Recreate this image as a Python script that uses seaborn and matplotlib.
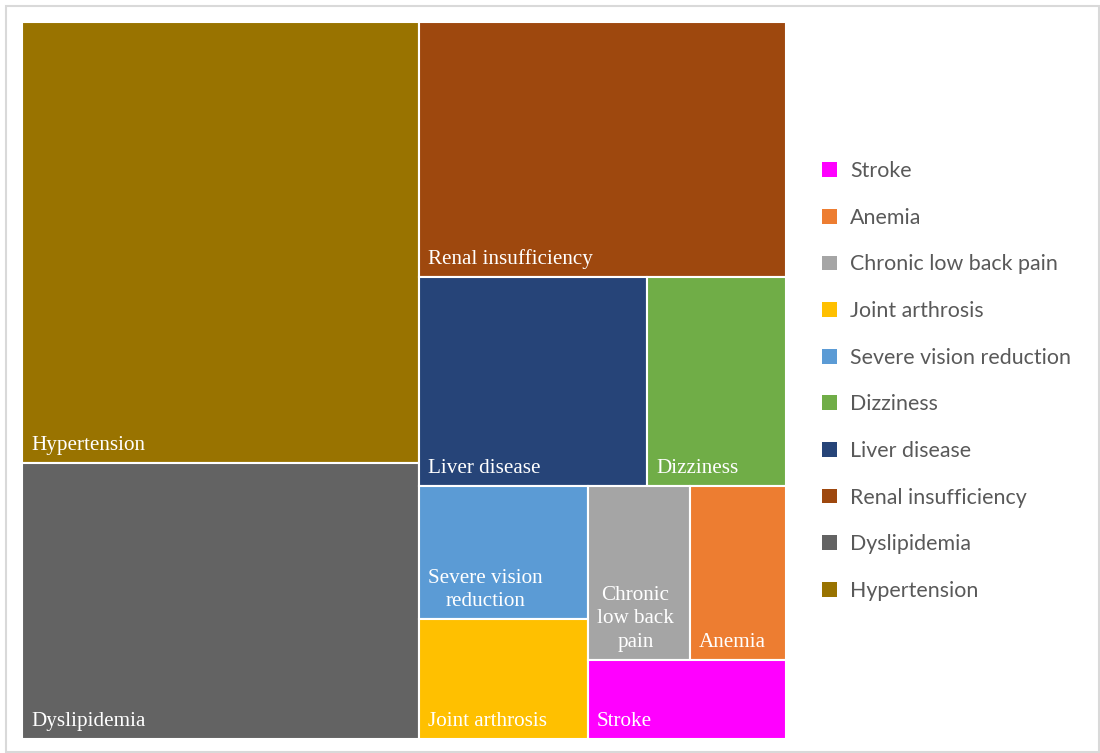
import matplotlib
matplotlib.use("Agg")
import matplotlib.pyplot as plt
from matplotlib.patches import Rectangle, Patch
import seaborn as sns

# Share of patients per comorbidity (%)
categories = ["Hypertension", "Dyslipidemia", "Renal insufficiency", "Liver disease",
              "Dizziness", "Severe vision reduction", "Joint arthrosis",
              "Chronic low back pain", "Anemia", "Stroke"]
values = [31.8, 19.9, 17.0, 8.66, 5.28, 4.10, 3.70, 3.21, 3.05, 2.86]
tile_labels = ["Hypertension", "Dyslipidemia", "Renal insufficiency", "Liver disease",
               "Dizziness", "Severe vision\nreduction", "Joint arthrosis",
               "Chronic\nlow back\npain", "Anemia", "Stroke"]
colors = ["#997300", "#636363", "#9E480E", "#264478", "#70AD47",
          "#5B9BD5", "#FFC000", "#A5A5A5", "#ED7D31", "#FF00FF"]


def worst_ratio(row, side):
    s = sum(row)
    return max(max(side * side * r / (s * s), (s * s) / (side * side * r)) for r in row)


def squarify(vals, x, y, w, h):
    """Squarified treemap layout; y grows downward."""
    total = sum(vals)
    areas = [v * w * h / total for v in vals]
    rects = []
    while areas:
        side = min(w, h)
        row = [areas[0]]
        i = 1
        while i < len(areas) and worst_ratio(row + [areas[i]], side) <= worst_ratio(row, side):
            row.append(areas[i])
            i += 1
        s = sum(row)
        if w >= h:
            cw = s / h
            yy = y
            for a in row:
                rh = a / cw
                rects.append((x, yy, cw, rh))
                yy += rh
            x += cw
            w -= cw
        else:
            rh = s / w
            xx = x
            for a in row:
                rw = a / rh
                rects.append((xx, y, rw, rh))
                xx += rw
            y += rh
            h -= rh
        areas = areas[len(row):]
    return rects


sns.set_theme(style="white")
plt.rcParams["font.family"] = ["Lato", "DejaVu Sans"]

FW, FH = 1100, 753
fig = plt.figure(figsize=(FW / 100, FH / 100), dpi=100)
fig.patch.set_facecolor("white")

# outer chart frame
fig.add_artist(Rectangle((6 / FW, 1 - 752 / FH), (1099 - 6) / FW, (752 - 6) / FH,
                         transform=fig.transFigure, fill=False,
                         edgecolor="#d9d9d9", linewidth=1.5))

left, right, top, bottom = 22, 786, 22, 739
ax = fig.add_axes([left / FW, 1 - bottom / FH, (right - left) / FW, (bottom - top) / FH])
W, H = right - left, bottom - top
ax.set_xlim(0, W)
ax.set_ylim(H, 0)
ax.axis("off")

rects = squarify(values, 0, 0, W, H)
for (x, y, w, h), c, lab in zip(rects, colors, tile_labels):
    ax.add_patch(Rectangle((x, y), w, h, facecolor=c, edgecolor="white", linewidth=1.5))
    ax.text(x + 9, y + h - 8, lab, ha="left", va="bottom", multialignment="center",
            color="white", fontsize=15.2, family=["Liberation Serif", "DejaVu Serif"],
            linespacing=1.3)

handles = [Patch(facecolor=c, edgecolor="none", label=n) for n, c in zip(categories, colors)][::-1]
leg = fig.legend(handles=handles, loc="center left", bbox_to_anchor=(803 / FW, 1 - 381 / FH),
                 frameon=False, fontsize=15.4, handlelength=0.68, handleheight=0.68,
                 handletextpad=0.62, labelspacing=1.245, labelcolor="#595959")

fig.savefig("out.png", dpi=100, facecolor="white")
